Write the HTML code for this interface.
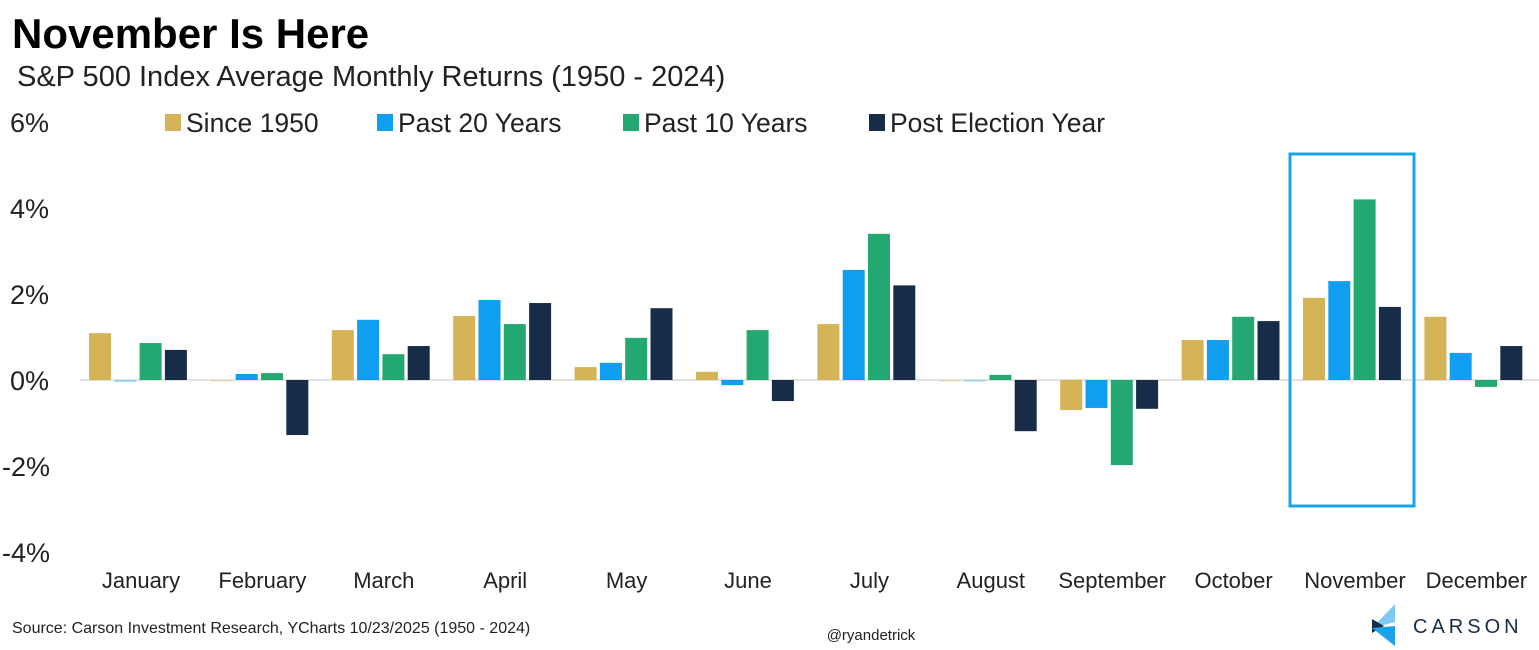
<!DOCTYPE html>
<html><head><meta charset="utf-8"><style>
body{margin:0;background:#fff;}
svg{display:block;font-family:"Liberation Sans",Arial,sans-serif;}
</style></head><body>
<svg width="1539" height="650" viewBox="0 0 1539 650" xmlns="http://www.w3.org/2000/svg">
<rect width="1539" height="650" fill="#fff"/>
<text x="12" y="48" font-size="42" font-weight="bold" fill="#000">November Is Here</text>
<text x="17" y="86" font-size="29" fill="#222">S&amp;P 500 Index Average Monthly Returns (1950 - 2024)</text>
<g font-size="27" fill="#222">
<text x="10" y="132">6%</text>
<text x="10" y="218">4%</text>
<text x="10" y="304">2%</text>
<text x="10" y="390">0%</text>
<text x="2" y="476">-2%</text>
<text x="2" y="562">-4%</text>
</g>
<g font-size="26.5" fill="#222">
<rect x="165" y="114" width="16" height="17" fill="#D4B457"/><text x="186" y="132">Since 1950</text>
<rect x="377" y="114" width="16" height="17" fill="#109EF0"/><text x="398" y="132">Past 20 Years</text>
<rect x="623" y="114" width="16" height="17" fill="#22A870"/><text x="644" y="132">Past 10 Years</text>
<rect x="869" y="114" width="16" height="17" fill="#172C47"/><text x="890" y="132">Post Election Year</text>
</g>
<line x1="80" y1="380" x2="1539" y2="380" stroke="#d9d9d9" stroke-width="1.5"/>
<g id="bars"></g>
<rect x="1290" y="154" width="124" height="352" fill="none" stroke="#1AA3E8" stroke-width="3"/>
<g font-size="22" fill="#222" text-anchor="middle" id="labels"></g>
<text x="12" y="633" font-size="16" fill="#222">Source: Carson Investment Research, YCharts 10/23/2025 (1950 - 2024)</text>
<text x="871" y="640" font-size="15" fill="#222" text-anchor="middle">@ryandetrick</text>
<polygon points="1395,604 1395,622 1372,628" fill="#7fc9f5"/>
<polygon points="1372,619 1384,626 1372,633" fill="#172C47"/>
<polygon points="1372,628 1395,626 1395,646" fill="#1AA3E8"/>
<text x="1413" y="633" font-size="20" fill="#172C47" letter-spacing="4">CARSON</text>
<script>
var d=[[1.09,-0.05,0.86,0.7],[-0.02,0.14,0.16,-1.28],[1.16,1.4,0.6,0.79],[1.49,1.86,1.3,1.79],[0.3,0.4,0.98,1.67],[0.19,-0.12,1.16,-0.49],[1.3,2.56,3.4,2.2],[-0.03,-0.03,0.12,-1.19],[-0.7,-0.65,-1.98,-0.67],[0.93,0.93,1.47,1.37],[1.91,2.3,4.2,1.7],[1.47,0.63,-0.16,0.79]];
var m=["January","February","March","April","May","June","July","August","September","October","November","December"];
var c=["#D4B457","#109EF0","#22A870","#172C47"];
var ns="http://www.w3.org/2000/svg",g=document.getElementById("bars"),L=document.getElementById("labels");
for(var i=0;i<12;i++){var cx=141+i*121.4;
for(var j=0;j<4;j++){var v=d[i][j],h=Math.abs(v)*43,r=document.createElementNS(ns,"rect");
r.setAttribute("x",cx-52+j*25.3);r.setAttribute("width",22);
r.setAttribute("y",v>=0?380-h:380);r.setAttribute("height",Math.max(h,1.5));
r.setAttribute("fill",c[j]);if(Math.abs(v)<0.06)r.setAttribute("opacity","0.35");g.appendChild(r);}
var t=document.createElementNS(ns,"text");t.setAttribute("x",cx);t.setAttribute("y",588);t.textContent=m[i];L.appendChild(t);}
</script>
</svg>
</body></html>
